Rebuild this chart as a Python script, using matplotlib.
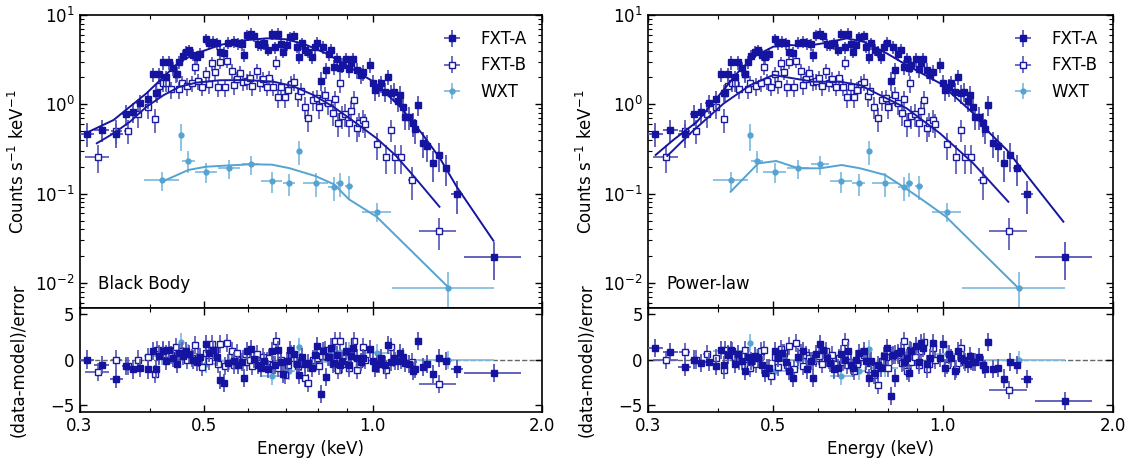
import numpy as np
import matplotlib
matplotlib.use('Agg')
import matplotlib.pyplot as plt
from matplotlib.ticker import FixedLocator, NullFormatter

# ---- FXT-A spectrum (keV, counts/s/keV) ----
fxta_e = np.array([
    0.309, 0.329, 0.349, 0.363, 0.373, 0.385, 0.397, 0.405,
    0.410, 0.416, 0.422, 0.428, 0.434, 0.441, 0.447, 0.452,
    0.458, 0.465, 0.471, 0.479, 0.485, 0.492, 0.504, 0.511,
    0.520, 0.527, 0.534, 0.542, 0.553, 0.566, 0.575, 0.584,
    0.589, 0.597, 0.606, 0.614, 0.623, 0.632, 0.641, 0.651,
    0.661, 0.670, 0.679, 0.687, 0.693, 0.703, 0.712, 0.724,
    0.732, 0.740, 0.747, 0.758, 0.768, 0.778, 0.788, 0.797,
    0.810, 0.815, 0.824, 0.834, 0.842, 0.853, 0.863, 0.873,
    0.880, 0.895, 0.906, 0.916, 0.923, 0.936, 0.951, 0.962,
    0.989, 1.003, 1.010, 1.024, 1.036, 1.050, 1.063, 1.078,
    1.092, 1.110, 1.120, 1.131, 1.143, 1.160, 1.178, 1.190,
    1.205, 1.228, 1.252, 1.283, 1.315, 1.352, 1.412, 1.645])
fxta_v = np.array([
    0.47, 0.52, 0.46, 0.77, 0.83, 1.03, 1.15, 2.18,
    1.35, 2.18, 2.95, 2.00, 2.95, 2.55, 2.18, 3.00,
    3.50, 3.90, 4.05, 3.60, 3.40, 3.70, 5.40, 4.80,
    5.00, 4.80, 3.90, 3.80, 4.90, 5.00, 4.80, 4.70,
    3.60, 6.00, 6.20, 5.80, 4.70, 4.60, 4.80, 4.10,
    6.10, 4.35, 6.20, 4.70, 3.90, 4.60, 5.70, 5.80,
    4.40, 3.40, 4.80, 4.10, 3.90, 3.40, 4.40, 4.90,
    1.84, 4.40, 2.42, 3.70, 4.10, 2.64, 3.20, 2.54,
    2.75, 3.20, 2.47, 2.90, 3.20, 2.42, 2.12, 2.30,
    2.75, 1.75, 1.45, 1.57, 1.72, 1.38, 2.04, 1.33,
    1.38, 1.10, 1.27, 0.93, 0.73, 0.73, 0.61, 0.525,
    0.98, 0.37, 0.34, 0.22, 0.27, 0.196, 0.098, 0.0196])
fxta_rel = np.array([
    0.30, 0.28, 0.30, 0.26, 0.25, 0.24, 0.22, 0.18,
    0.22, 0.18, 0.17, 0.19, 0.17, 0.18, 0.19, 0.17,
    0.16, 0.16, 0.15, 0.16, 0.16, 0.16, 0.14, 0.15,
    0.15, 0.15, 0.16, 0.16, 0.15, 0.15, 0.15, 0.15,
    0.17, 0.14, 0.14, 0.14, 0.15, 0.15, 0.15, 0.16,
    0.14, 0.16, 0.14, 0.15, 0.16, 0.15, 0.14, 0.14,
    0.15, 0.17, 0.15, 0.16, 0.16, 0.17, 0.16, 0.15,
    0.24, 0.16, 0.20, 0.17, 0.16, 0.19, 0.18, 0.19,
    0.19, 0.18, 0.20, 0.19, 0.18, 0.20, 0.21, 0.20,
    0.19, 0.22, 0.24, 0.23, 0.22, 0.24, 0.20, 0.24,
    0.24, 0.26, 0.25, 0.27, 0.29, 0.29, 0.30, 0.31,
    0.25, 0.33, 0.34, 0.38, 0.36, 0.38, 0.40, 0.45])
fxta_xerr = np.array([
    0.010, 0.010, 0.009, 0.006, 0.006, 0.006, 0.005, 0.004,
    0.004, 0.004, 0.004, 0.004, 0.004, 0.004, 0.004, 0.004,
    0.004, 0.004, 0.004, 0.004, 0.004, 0.004, 0.004, 0.004,
    0.004, 0.004, 0.004, 0.004, 0.004, 0.004, 0.004, 0.004,
    0.004, 0.004, 0.004, 0.004, 0.004, 0.004, 0.004, 0.004,
    0.004, 0.004, 0.004, 0.004, 0.004, 0.004, 0.004, 0.004,
    0.005, 0.005, 0.005, 0.005, 0.005, 0.005, 0.005, 0.005,
    0.005, 0.005, 0.005, 0.005, 0.005, 0.005, 0.005, 0.005,
    0.005, 0.005, 0.005, 0.005, 0.005, 0.005, 0.005, 0.005,
    0.006, 0.006, 0.006, 0.006, 0.006, 0.006, 0.006, 0.006,
    0.006, 0.006, 0.006, 0.006, 0.006, 0.006, 0.006, 0.006,
    0.008, 0.010, 0.012, 0.015, 0.016, 0.018, 0.035, 0.190])
fxta_res_bb = np.array([
    0.0, -0.56, -2.1, -0.74, -1.1, -0.93, -1.1, 0.93,
    -1.0, 0.4, 0.93, -0.2, 1.1, 0.2, -0.5, 0.74,
    0.37, 0.93, 0.6, 0.0, -0.3, 0.26, 1.67, 0.74,
    1.1, 0.26, -2.3, -2.6, -0.37, -0.2, -0.56, -0.3,
    -2.0, 0.93, 1.2, 0.1, -0.56, -0.93, -0.2, -1.0,
    0.93, -0.6, 1.1, -0.3, -1.6, -0.2, 1.1, 0.56,
    -0.5, -1.67, 0.3, -0.5, -0.4, -0.9, 0.5, 1.5,
    -3.85, 0.9, -1.9, 0.3, 1.33, -0.4, 0.5, -0.6,
    -0.2, 0.96, -0.6, 0.4, 1.26, 0.2, -0.3, 0.2,
    1.15, -0.2, -0.9, -0.5, 0.2, -0.6, 1.63, -0.3,
    0.2, -0.2, 0.7, 0.3, -0.4, -0.5, -1.26, -1.0,
    2.07, -0.81, -0.52, -1.56, 0.2, -0.15, -1.07, -1.44])
fxta_res_pl = np.array([
    1.3, 0.85, -0.81, 0.0, -0.4, -0.3, -0.74, 1.1,
    -0.6, 0.5, 1.1, -0.5, 0.6, -0.2, -1.3, 0.3,
    -0.2, 0.4, 0.2, -0.6, -1.48, -0.9, 0.93, 0.2,
    0.7, -0.3, -1.3, -2.0, 0.3, 0.9, -1.1, -0.2,
    -2.0, 0.6, 1.67, 1.1, 0.2, -0.4, -1.1, -0.9,
    0.56, 0.0, 0.9, -0.55, -0.9, 0.0, 0.74, 0.93,
    -0.2, -2.0, -0.2, -1.5, -0.6, -0.93, 0.37, 1.3,
    -4.07, 0.5, -2.0, 0.74, 0.93, -0.3, 0.2, -1.5,
    0.93, 1.5, -0.3, 1.85, 1.3, -0.5, 0.2, 1.85,
    0.2, 1.67, -0.9, 0.56, 0.2, -1.3, 0.93, 0.2,
    -0.1, -0.5, 0.4, -0.3, -0.3, 0.3, -0.6, -1.0,
    1.96, -1.0, -0.9, -2.1, -0.3, -0.6, -2.15, -4.55])

# ---- FXT-B spectrum ----
fxtb_e = np.array([
    0.323, 0.349, 0.366, 0.382, 0.397, 0.409, 0.412, 0.416,
    0.423, 0.428, 0.436, 0.446, 0.452, 0.456, 0.467, 0.476,
    0.482, 0.488, 0.496, 0.505, 0.510, 0.517, 0.524, 0.530,
    0.534, 0.546, 0.550, 0.562, 0.566, 0.572, 0.580, 0.588,
    0.596, 0.604, 0.610, 0.621, 0.630, 0.636, 0.647, 0.654,
    0.665, 0.672, 0.678, 0.687, 0.697, 0.706, 0.716, 0.724,
    0.737, 0.744, 0.756, 0.768, 0.782, 0.794, 0.801, 0.812,
    0.822, 0.833, 0.848, 0.855, 0.866, 0.875, 0.880, 0.893,
    0.906, 0.916, 0.925, 0.936, 0.947, 0.961, 0.970, 1.019,
    1.055, 1.078, 1.097, 1.123, 1.177, 1.310])
fxtb_v = np.array([
    0.259, 0.507, 0.507, 0.773, 0.94, 0.685, 1.35, 1.60,
    1.75, 1.75, 1.47, 2.18, 1.47, 1.72, 1.60, 1.72,
    2.64, 1.82, 1.57, 2.18, 1.67, 2.88, 2.32, 1.55,
    3.00, 1.55, 3.08, 2.38, 1.64, 1.92, 2.22, 1.80,
    1.82, 1.95, 1.60, 2.35, 1.72, 1.92, 1.57, 1.95,
    1.57, 2.92, 1.20, 1.57, 1.20, 1.45, 1.69, 1.79,
    1.24, 1.42, 0.94, 0.70, 1.12, 1.17, 0.93, 1.12,
    1.27, 1.03, 0.79, 1.14, 0.62, 1.72, 0.74, 0.78,
    0.61, 0.85, 1.12, 0.55, 0.61, 0.67, 0.60, 0.359,
    0.26, 0.52, 0.26, 0.26, 0.142, 0.0385])
fxtb_rel = np.array([
    0.35, 0.30, 0.30, 0.30, 0.28, 0.30, 0.24, 0.22,
    0.21, 0.21, 0.22, 0.20, 0.22, 0.21, 0.22, 0.21,
    0.19, 0.21, 0.22, 0.20, 0.21, 0.18, 0.20, 0.22,
    0.18, 0.22, 0.18, 0.20, 0.22, 0.21, 0.20, 0.21,
    0.21, 0.20, 0.22, 0.19, 0.21, 0.20, 0.22, 0.20,
    0.22, 0.18, 0.24, 0.22, 0.24, 0.23, 0.22, 0.21,
    0.24, 0.23, 0.27, 0.30, 0.25, 0.25, 0.27, 0.25,
    0.24, 0.26, 0.28, 0.25, 0.30, 0.22, 0.29, 0.28,
    0.30, 0.28, 0.25, 0.31, 0.30, 0.29, 0.30, 0.33,
    0.36, 0.28, 0.36, 0.36, 0.40, 0.40])
fxtb_xerr = np.array([
    0.016, 0.008, 0.006, 0.006, 0.005, 0.004, 0.004, 0.004,
    0.004, 0.004, 0.004, 0.004, 0.004, 0.004, 0.004, 0.004,
    0.004, 0.004, 0.004, 0.004, 0.004, 0.004, 0.004, 0.004,
    0.004, 0.004, 0.004, 0.004, 0.004, 0.004, 0.004, 0.004,
    0.004, 0.004, 0.004, 0.004, 0.004, 0.004, 0.004, 0.004,
    0.004, 0.004, 0.004, 0.004, 0.004, 0.004, 0.004, 0.004,
    0.005, 0.005, 0.005, 0.005, 0.005, 0.005, 0.005, 0.005,
    0.005, 0.005, 0.005, 0.005, 0.005, 0.005, 0.005, 0.005,
    0.005, 0.005, 0.005, 0.005, 0.005, 0.005, 0.005, 0.008,
    0.012, 0.010, 0.010, 0.012, 0.020, 0.100])
fxtb_res_bb = np.array([
    -1.37, 0.0, -0.74, 0.0, 0.26, -1.6, 1.1, 0.63,
    1.1, 0.63, 0.5, 1.37, 0.37, 0.93, 0.0, 0.2,
    1.6, 0.2, -0.85, 0.74, -0.2, 1.67, 1.1, -0.5,
    1.74, -0.74, 1.8, 0.93, -0.56, 0.74, -0.1, 0.0,
    -0.3, 0.0, -0.74, 0.56, -0.37, 0.26, -0.2, 0.2,
    -0.6, 2.04, -0.93, 0.0, -1.67, -0.56, 0.56, 0.2,
    -0.74, -0.3, -2.0, -2.6, 0.0, 0.2, -0.74, 0.4,
    1.0, 0.3, -0.5, 2.07, -1.2, 2.0, -0.5, 0.2,
    -0.9, 0.5, 2.0, -1.15, -0.5, 1.4, 0.0, -0.5,
    -1.15, 1.4, -0.2, 0.0, -0.3, -2.74])
fxtb_res_pl = np.array([
    -0.1, 0.81, 0.0, 0.63, 0.2, -1.2, 1.1, 0.56,
    0.93, 0.3, -0.2, 1.1, -0.6, -0.9, -0.5, 0.93,
    1.0, -0.9, -1.85, 0.3, -0.8, 1.2, 0.74, -0.6,
    1.5, -1.0, 1.8, 0.7, -0.74, 0.5, 0.2, -0.2,
    0.2, 0.4, -0.5, 0.9, -0.1, 0.5, -0.5, 0.2,
    -0.3, 1.96, -0.6, -0.3, -1.3, -0.5, 0.3, 0.5,
    -1.0, -0.3, -1.7, -2.78, -0.2, 0.3, -0.9, 0.4,
    0.56, 0.5, -0.4, 2.1, -1.3, 1.1, -0.3, 0.3,
    -0.6, 0.9, 1.96, -1.0, -0.5, 1.3, 0.0, -0.6,
    -1.0, 1.3, -0.3, -0.2, -0.6, -3.33])

# ---- WXT spectrum ----
wxt_e = np.array([0.421, 0.455, 0.469, 0.504, 0.555, 0.606, 0.661, 0.710,
                  0.740, 0.791, 0.853, 0.873, 0.907, 1.016, 1.364])
wxt_v = np.array([0.141, 0.453, 0.234, 0.176, 0.192, 0.213, 0.138, 0.130,
                  0.302, 0.132, 0.119, 0.130, 0.122, 0.0627, 0.0087])
wxt_rel = np.array([0.25, 0.33, 0.28, 0.25, 0.25, 0.25, 0.27, 0.28,
                    0.30, 0.30, 0.30, 0.30, 0.30, 0.24, 0.52])
wxt_xerr = np.array([0.030, 0.003, 0.012, 0.023, 0.025, 0.022, 0.029, 0.018,
                     0.003, 0.041, 0.020, 0.012, 0.015, 0.060, 0.280])
wxt_res_bb = np.array([0.37, 1.96, 0.74, -0.48, -0.2, -0.1, -1.85, -1.3,
                       1.37, -0.3, 0.67, 0.78, 0.96, 0.67, -0.07])
wxt_res_pl = np.array([0.93, 1.85, 0.2, -1.3, -0.1, 0.37, -1.85, -1.3,
                       1.2, -0.93, 0.56, 0.74, 1.1, 0.56, -0.1])

# ---- model curves ----
bb_a_e = [0.309, 0.345, 0.395, 0.424, 0.452, 0.485, 0.534, 0.580, 0.647, 0.703,
          0.762, 0.825, 0.897, 1.003, 1.119, 1.223, 1.318, 1.412, 1.641]
bb_a_v = [0.481, 0.667, 1.33, 2.04, 3.0, 3.72, 4.61, 5.16, 5.48, 5.34,
          4.61, 3.72, 2.75, 1.79, 0.94, 0.473, 0.248, 0.119, 0.0297]
bb_b_e = [0.322, 0.345, 0.369, 0.395, 0.424, 0.452, 0.485, 0.534, 0.596, 0.666,
          0.720, 0.784, 0.850, 0.918, 1.016, 1.097, 1.185, 1.315]
bb_b_v = [0.366, 0.473, 0.638, 0.94, 1.27, 1.57, 1.75, 1.86, 1.87, 1.79,
          1.60, 1.27, 0.94, 0.667, 0.416, 0.27, 0.155, 0.0713]
bb_w_e = [0.421, 0.469, 0.504, 0.555, 0.606, 0.661, 0.712, 0.791, 0.853, 0.907, 1.016, 1.364]
bb_w_v = [0.136, 0.184, 0.200, 0.207, 0.213, 0.211, 0.192, 0.157, 0.127, 0.0863, 0.0551, 0.00893]

pl_a_e = [0.310, 0.333, 0.367, 0.409, 0.437, 0.468, 0.501, 0.536, 0.574, 0.623,
          0.676, 0.723, 0.796, 0.863, 0.989, 1.133, 1.213, 1.299, 1.636]
pl_a_v = [0.271, 0.398, 0.638, 1.45, 2.42, 3.56, 4.42, 4.61, 4.5, 4.9,
          5.48, 5.03, 3.72, 2.75, 1.72, 0.793, 0.473, 0.308, 0.0485]
pl_b_e = [0.325, 0.357, 0.409, 0.456, 0.501, 0.544, 0.590, 0.658, 0.714, 0.774,
          0.863, 0.989, 1.133, 1.307]
pl_b_v = [0.264, 0.473, 1.02, 1.64, 2.13, 1.95, 1.79, 1.79, 1.64, 1.27,
          0.902, 0.473, 0.218, 0.081]
pl_w_e = [0.421, 0.471, 0.507, 0.555, 0.606, 0.662, 0.714, 0.790, 0.852, 0.931, 1.014, 1.358]
pl_w_v = [0.105, 0.218, 0.232, 0.192, 0.192, 0.209, 0.192, 0.162, 0.119, 0.081, 0.055, 0.0089]

c_a = '#1414a0'
c_b = '#1a1aa4'
c_w = '#55a3d1'
e_a = '#5656b6'
e_b = '#6161bb'
e_w = '#86bde0'

plt.rcParams['font.size'] = 12
plt.rcParams['axes.linewidth'] = 1.2

fig = plt.figure(figsize=(11.33, 4.59), dpi=100)


def style_axes(ax):
    ax.set_xscale('log')
    ax.set_xlim(0.3, 2.0)
    ax.set_xticks([0.3, 0.5, 1.0, 2.0], labels=['0.3', '0.5', '1.0', '2.0'])
    ax.xaxis.set_minor_locator(FixedLocator([0.4, 0.6, 0.7, 0.8, 0.9]))
    ax.xaxis.set_minor_formatter(NullFormatter())
    ax.tick_params(which='both', direction='in', top=True, right=True, labelsize=12)
    ax.tick_params(which='major', length=5, width=1)
    ax.tick_params(which='minor', length=3, width=0.8)


def panel(left, width, models, res, name):
    ax = fig.add_axes([left, 0.329, width, 0.6383])
    axr = fig.add_axes([left, 0.1024, width, 0.2266])
    for a in (ax, axr):
        style_axes(a)
    ax.set_yscale('log')
    ax.set_ylim(5.24e-3, 10)
    ax.tick_params(labelbottom=False)

    ha = ax.errorbar(fxta_e, fxta_v, yerr=fxta_v * fxta_rel, xerr=fxta_xerr, fmt='s',
                     ms=4, color=c_a, ecolor=e_a, elinewidth=1.3, label='FXT-A', zorder=3)
    hb = ax.errorbar(fxtb_e, fxtb_v, yerr=fxtb_v * fxtb_rel, xerr=fxtb_xerr, fmt='s',
                     ms=4.5, mfc='white', mec=c_b, mew=1.0, color=c_b, ecolor=e_b,
                     elinewidth=1.3, label='FXT-B', zorder=2)
    hw = ax.errorbar(wxt_e, wxt_v, yerr=wxt_v * wxt_rel, xerr=wxt_xerr, fmt='o',
                     ms=3.5, color=c_w, ecolor=e_w, elinewidth=1.3, label='WXT', zorder=1)
    (ae, av), (be, bv), (we, wv) = models
    ax.plot(ae, av, color=c_a, lw=1.4, zorder=4)
    ax.plot(be, bv, color=c_b, lw=1.4, zorder=4)
    ax.plot(we, wv, color=c_w, lw=1.4, zorder=4)
    ax.legend(handles=[ha, hb, hw], loc='upper right', frameon=False, fontsize=12,
              handlelength=1.0, handletextpad=1.2)
    ax.text(0.04, 0.065, name, transform=ax.transAxes, fontsize=12)
    ax.set_ylabel('Counts s$^{-1}$ keV$^{-1}$', fontsize=12)
    ax.yaxis.set_label_coords(-0.112, 0.5)

    ra, rb, rw = res
    axr.axhline(0, color='#666666', ls='--', lw=1.0, zorder=0)
    axr.errorbar(fxta_e, ra, yerr=1.0, xerr=fxta_xerr, fmt='s', ms=4, color=c_a,
                 ecolor=e_a, elinewidth=1.3, zorder=3)
    axr.errorbar(fxtb_e, rb, yerr=1.0, xerr=fxtb_xerr, fmt='s', ms=4.5, mfc='white',
                 mec=c_b, mew=1.0, color=c_b, ecolor=e_b, elinewidth=1.3, zorder=2)
    axr.errorbar(wxt_e, rw, yerr=1.0, xerr=wxt_xerr, fmt='o', ms=3.5, color=c_w,
                 ecolor=e_w, elinewidth=1.3, zorder=1)
    axr.set_ylim(-5.8, 5.7)
    axr.set_yticks([-5, 0, 5])
    axr.set_xlabel('Energy (keV)', fontsize=12)
    axr.set_ylabel('(data-model)/error', fontsize=12)
    axr.yaxis.set_label_coords(-0.112, 0.5)


panel(0.0702, 0.4078,
      ((bb_a_e, bb_a_v), (bb_b_e, bb_b_v), (bb_w_e, bb_w_v)),
      (fxta_res_bb, fxtb_res_bb, wxt_res_bb), 'Black Body')
panel(0.5716, 0.4104,
      ((pl_a_e, pl_a_v), (pl_b_e, pl_b_v), (pl_w_e, pl_w_v)),
      (fxta_res_pl, fxtb_res_pl, wxt_res_pl), 'Power-law')

fig.savefig('out.png', dpi=100)
